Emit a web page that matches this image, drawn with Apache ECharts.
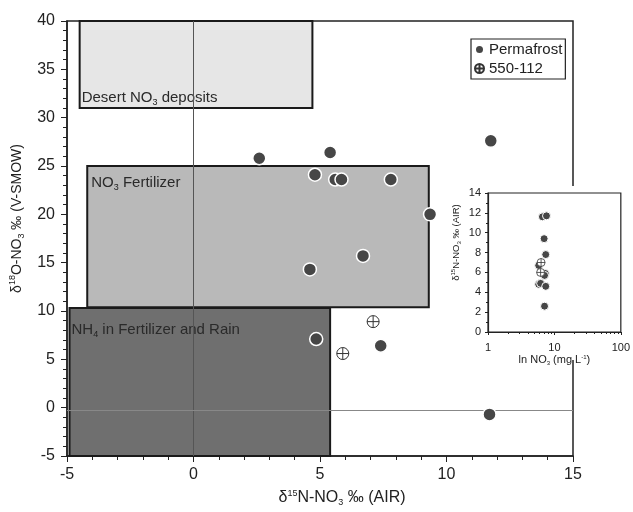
<!DOCTYPE html>
<html>
<head>
<meta charset="utf-8">
<script src="https://cdn.jsdelivr.net/npm/echarts@6/dist/echarts.min.js"></script>
<style>
  html, body { margin: 0; padding: 0; background: #fff; }
  #chart { width: 633px; height: 512px; }
</style>
</head>
<body>
<div id="chart"></div>
<script>
// main plot: d15N vs d18O of nitrate
const permafrostN = [2.6, 5.4, 4.8, 5.6, 5.85, 7.8, 11.75, 9.35, 6.7, 4.6, 4.85, 7.4, 11.7]
const permafrostO = [25.8, 26.4, 24.1, 23.6, 23.6, 23.6, 27.6, 20.0, 15.7, 14.3, 7.1, 6.4, -0.7]
const siteN = [7.1, 5.9]
const siteO = [8.9, 5.6]

// source boxes
const boxLabels = ['Desert NO{sub|3} deposits', 'NO{sub|3} Fertilizer', 'NH{sub|4} in Fertilizer and Rain']
const boxX = [[-4.5, 4.7], [-4.2, 9.3], [-4.9, 5.4]]
const boxY = [[31, 40], [10.4, 25], [-5, 10.3]]

// inset: d15N vs nitrate concentration
const insetPermaConc = [6.6, 7.6, 7.0, 7.4, 5.8, 7.3, 7.1, 5.8, 6.2, 7.4, 7.1]
const insetPermaN = [11.6, 11.7, 9.4, 7.8, 6.7, 5.9, 5.7, 4.8, 4.9, 4.6, 2.6]
const insetSiteConc = [6.3, 6.2]
const insetSiteN = [7.0, 6.0]

const zip = (a, b) => a.map((v, i) => [v, b[i]])

const font = 'Liberation Sans, Arial, sans-serif'
const rich = {
  sup: { fontSize: 9, fontFamily: font, color: '#222', verticalAlign: 'top', lineHeight: 18 },
  sub: { fontSize: 9, fontFamily: font, color: '#222', verticalAlign: 'bottom', lineHeight: 18 }
}
const richSmall = {
  sup: { fontSize: 6, fontFamily: font, color: '#222', verticalAlign: 'top', lineHeight: 12 },
  sub: { fontSize: 6, fontFamily: font, color: '#222', verticalAlign: 'bottom', lineHeight: 12 }
}

const plusCircle = 'path://M0,-10A10,10 0 1,1 0,10A10,10 0 1,1 0,-10ZM-10,0L10,0M0,-10L0,10'

const boxFill = ['#e6e6e6', '#b9b9b9', '#6f6f6f']
const boxLabelPos = ['insideBottomLeft', 'insideTopLeft', 'insideTopLeft']
const boxLabelPad = [[0, 0, 0, 1], [4, 0, 0, 0], [9, 0, 0, -2]]
const boxLabelDist = [2, 5, 5]

const boxSeries = boxLabels.map((lab, i) => ({
  type: 'scatter',
  xAxisIndex: 0,
  yAxisIndex: 0,
  data: [],
  z: 1 + i,
  silent: true,
  markArea: {
    silent: true,
    itemStyle: { color: boxFill[i], borderColor: '#1a1a1a', borderWidth: 2, opacity: 1 },
    label: {
      show: true,
      position: boxLabelPos[i],
      distance: boxLabelDist[i],
      padding: boxLabelPad[i],
      formatter: lab,
      fontSize: 15,
      fontFamily: font,
      color: '#2a2a2a',
      lineHeight: 18,
      rich: rich
    },
    data: [[{ coord: [boxX[i][0], boxY[i][1]] }, { coord: [boxX[i][1], boxY[i][0]] }]]
  }
}))

const chart = echarts.init(document.getElementById('chart'))

const option = {
  animation: false,
  backgroundColor: '#fff',
  textStyle: { fontFamily: font },
  legend: {
    left: 471,
    top: 39,
    orient: 'vertical',
    padding: [3, 3, 3, 3],
    itemGap: 4,
    itemWidth: 9,
    itemHeight: 9,
    borderColor: '#222',
    borderWidth: 1.2,
    textStyle: { fontSize: 15, color: '#222', fontFamily: font },
    data: ['Permafrost', '550-112']
  },
  graphic: [{
    type: 'rect',
    z: 10,
    shape: { x: 458, y: 186, width: 175, height: 174 },
    style: { fill: '#fff' }
  }],
  grid: [
    { left: 67, top: 21, width: 506, height: 446, show: true, borderColor: '#222', borderWidth: 1.5 },
    { left: 488, top: 193, width: 135, height: 139, show: true, borderColor: '#222', borderWidth: 1.2, z: 11 }
  ],
  xAxis: [
    {
      gridIndex: 0, type: 'value', min: -5, max: 15, interval: 5,
      name: 'δ{sup|15}N-NO{sub|3} ‰ (AIR)', nameLocation: 'middle', nameGap: 33,
      nameTextStyle: { fontSize: 16, color: '#222', fontFamily: font, lineHeight: 18, rich: rich, padding: [0, 0, 0, 44] },
      axisLine: { onZero: false, lineStyle: { color: '#222', width: 1.5 } },
      axisTick: { length: 6, lineStyle: { color: '#222' } },
      minorTick: { show: true, splitNumber: 5, length: 4, lineStyle: { color: '#222' } },
      axisLabel: { fontSize: 16, color: '#222', margin: 11 },
      splitLine: { show: false }
    },
    {
      gridIndex: 1, type: 'log', logBase: 10, min: 1, max: 100, z: 11,
      name: 'ln NO{sub|3} (mg L{sup|-1})', nameLocation: 'middle', nameGap: 21,
      nameTextStyle: { fontSize: 11, color: '#222', fontFamily: font, lineHeight: 12, rich: richSmall },
      axisLine: { onZero: false, lineStyle: { color: '#222', width: 1.2 } },
      axisTick: { length: 3, lineStyle: { color: '#222' } },
      minorTick: { show: true, splitNumber: 9, length: 2, lineStyle: { color: '#222' } },
      axisLabel: { fontSize: 11, color: '#222', margin: 10 },
      splitLine: { show: false }
    }
  ],
  yAxis: [
    {
      gridIndex: 0, type: 'value', min: -5, max: 40, interval: 5,
      name: 'δ{sup|18}O-NO{sub|3} ‰ (V-SMOW)', nameLocation: 'middle', nameGap: 41,
      nameTextStyle: { fontSize: 14, color: '#222', fontFamily: font, lineHeight: 18, rich: rich, padding: [0, 0, 0, 40] },
      axisLine: { show: true, onZero: false, lineStyle: { color: '#222', width: 1.5 } },
      axisTick: { show: true, length: 6, lineStyle: { color: '#222' } },
      minorTick: { show: true, splitNumber: 5, length: 4, lineStyle: { color: '#222' } },
      axisLabel: { fontSize: 16, color: '#222', margin: 12 },
      splitLine: { show: false }
    },
    {
      gridIndex: 1, type: 'value', min: 0, max: 14, interval: 2, z: 11,
      name: 'δ{sup|15}N-NO{sub|3} ‰ (AIR)', nameLocation: 'middle', nameGap: 26,
      nameTextStyle: { fontSize: 9.5, color: '#222', fontFamily: font, lineHeight: 12, rich: richSmall, padding: [0, 0, 0, 40] },
      axisLine: { show: true, onZero: false, lineStyle: { color: '#222', width: 1.2 } },
      axisTick: { show: true, length: 3, lineStyle: { color: '#222' } },
      minorTick: { show: true, splitNumber: 2, length: 2, lineStyle: { color: '#222' } },
      axisLabel: { fontSize: 11, color: '#222', margin: 7 },
      splitLine: { show: false }
    }
  ],
  series: [
    ...boxSeries,
    {
      type: 'scatter',
      data: [],
      z: 4,
      silent: true,
      markLine: {
        silent: true,
        symbol: 'none',
        label: { show: false },
        data: [
          { xAxis: 0, lineStyle: { color: '#555', width: 1, type: 'solid' } },
          { yAxis: -0.25, lineStyle: { color: '#888', width: 1, type: 'solid' } }
        ]
      }
    },
    {
      name: 'Permafrost',
      type: 'scatter',
      xAxisIndex: 0, yAxisIndex: 0,
      z: 5,
      symbol: 'circle',
      symbolSize: 13,
      itemStyle: { color: '#464646', borderColor: '#fff', borderWidth: 1.5, opacity: 1 },
      data: zip(permafrostN, permafrostO)
    },
    {
      name: '550-112',
      type: 'scatter',
      xAxisIndex: 0, yAxisIndex: 0,
      z: 6,
      symbol: plusCircle,
      symbolSize: 12,
      itemStyle: { color: '#fff', borderColor: '#333', borderWidth: 1, opacity: 1 },
      data: zip(siteN, siteO)
    },
    {
      type: 'scatter',
      xAxisIndex: 1, yAxisIndex: 1,
      z: 12,
      symbol: 'circle',
      symbolSize: 8,
      itemStyle: { color: '#464646', borderColor: '#fff', borderWidth: 1, opacity: 1 },
      data: zip(insetPermaConc, insetPermaN)
    },
    {
      type: 'scatter',
      xAxisIndex: 1, yAxisIndex: 1,
      z: 13,
      symbol: plusCircle,
      symbolSize: 8,
      itemStyle: { color: '#fff', borderColor: '#333', borderWidth: 0.8, opacity: 1 },
      data: zip(insetSiteConc, insetSiteN)
    }
  ]
}

chart.setOption(option)
</script>
</body>
</html>
